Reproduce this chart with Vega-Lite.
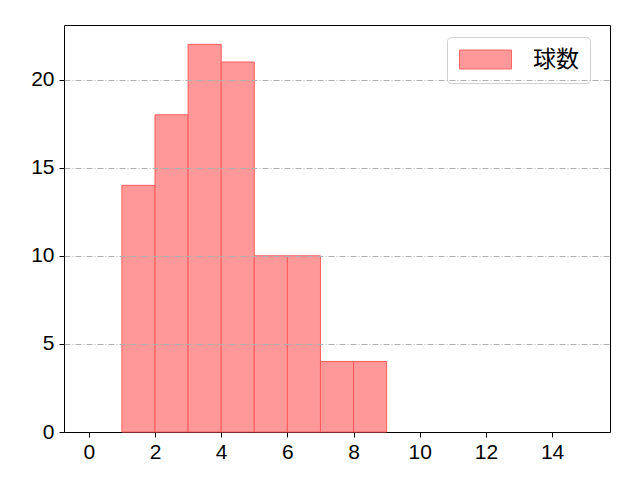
{
  "$schema": "https://vega.github.io/schema/vega-lite/v6.json",
  "width": 546,
  "height": 407,
  "autosize": {"type": "none"},
  "padding": {"left": 64, "top": 25, "right": 30, "bottom": 48},
  "background": "white",
  "config": {
    "view": {"stroke": "black", "strokeWidth": 1},
    "font": "Liberation Sans"
  },
  "data": {
    "values": [
      {"start": 1, "end": 2, "count": 14, "series": "球数"},
      {"start": 2, "end": 3, "count": 18, "series": "球数"},
      {"start": 3, "end": 4, "count": 22, "series": "球数"},
      {"start": 4, "end": 5, "count": 21, "series": "球数"},
      {"start": 5, "end": 6, "count": 10, "series": "球数"},
      {"start": 6, "end": 7, "count": 10, "series": "球数"},
      {"start": 7, "end": 8, "count": 4, "series": "球数"},
      {"start": 8, "end": 9, "count": 4, "series": "球数"}
    ]
  },
  "mark": {
    "type": "rect",
    "stroke": "#ff5a5a",
    "strokeWidth": 1
  },
  "encoding": {
    "x": {
      "field": "start",
      "type": "quantitative",
      "scale": {"domain": [-0.75, 15.75], "nice": false, "zero": false},
      "axis": {
        "title": null,
        "values": [0, 2, 4, 6, 8, 10, 12, 14],
        "grid": false,
        "domain": false,
        "tickColor": "black",
        "tickSize": 5,
        "labelFontSize": 21,
        "labelColor": "black",
        "labelPadding": 4,
        "labelFont": "Liberation Sans"
      }
    },
    "x2": {"field": "end"},
    "y": {
      "field": "count",
      "type": "quantitative",
      "scale": {"domain": [0, 23.1], "nice": false},
      "axis": {
        "title": null,
        "values": [0, 5, 10, 15, 20],
        "grid": true,
        "gridColor": "#b0b0b0",
        "gridDash": [6, 2, 1, 2],
        "gridWidth": 1,
        "gridOpacity": {"condition": {"test": "datum.value === 0", "value": 0}, "value": 1},
        "zindex": 1,
        "domain": false,
        "tickColor": "black",
        "tickSize": 5,
        "labelFontSize": 21,
        "labelColor": "black",
        "labelPadding": 5,
        "labelFont": "Liberation Sans"
      }
    },
    "y2": {"datum": 0},
    "fill": {
      "field": "series",
      "type": "nominal",
      "scale": {"range": ["#ff9999"]},
      "legend": {
        "title": null,
        "orient": "none",
        "legendX": 383,
        "legendY": 12,
        "symbolType": "M-2.6,-0.95H2.6V0.95H-2.6Z",
        "symbolSize": 400,
        "symbolOffset": 16,
        "symbolStrokeColor": "#ff6666",
        "symbolStrokeWidth": 1,
        "symbolOpacity": 1,
        "labelFontSize": 23,
        "labelFont": "Noto Sans CJK JP",
        "labelColor": "black",
        "labelOffset": 36,
        "padding": 11,
        "strokeColor": "#d0d0d0",
        "fillColor": "white",
        "cornerRadius": 4
      }
    }
  }
}
